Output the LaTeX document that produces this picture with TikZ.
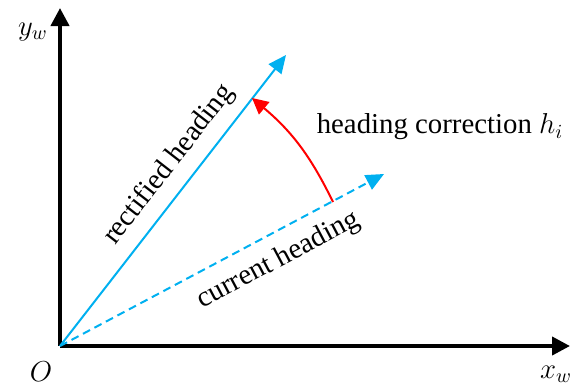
\documentclass[tikz,border=0pt]{standalone}
\usepackage{fontspec}
\setmainfont{Liberation Serif}
\usetikzlibrary{arrows.meta}
\definecolor{headblue}{RGB}{0,176,240}
\tikzset{axisline/.style={line width=2pt, -{Triangle[length=9pt,width=9pt]}},
         headline/.style={headblue, line width=1pt, -{Triangle[length=9pt,width=8pt]}},
         corrline/.style={red, line width=1pt, -{Triangle[length=8pt,width=8pt]}},
         headlabel/.style={text=black, sloped}}

\begin{document}
\begin{tikzpicture}[x=0.5pt,y=0.5pt,font=\fontsize{14.4}{17}\selectfont]
\useasboundingbox (0,0) rectangle (571,387);

\coordinate (O) at (60,41);
\coordinate (ytip) at (60,379);
\coordinate (xtip) at (570,41);
\coordinate (rect) at (286,332);
\coordinate (cur) at (384,213);
\coordinate (c1) at (333,185);
\coordinate (c2) at (252,289);

\draw[axisline] (O) -- (ytip);
\draw[axisline] (O) -- (xtip);

\draw[headline] (O) -- node[headlabel, pos=0.57, above=2pt] (rlab) {rectified heading} (rect);
\draw[headline, dashed, dash pattern=on 4pt off 2.5pt] (O) -- node[headlabel, pos=0.635, below=3pt] (clab) {current heading} (cur);

\draw[corrline] (c1) to[bend right=12] (c2);

\node[] (ylab) at (33,355) {$y_w$};
\node[] (olab) at (41,15) {$O$};
\node[] (xlab) at (556,13) {$x_w$};
\node[] (hlab) at (440,260) {heading correction $h_i$};
\end{tikzpicture}
\end{document}
